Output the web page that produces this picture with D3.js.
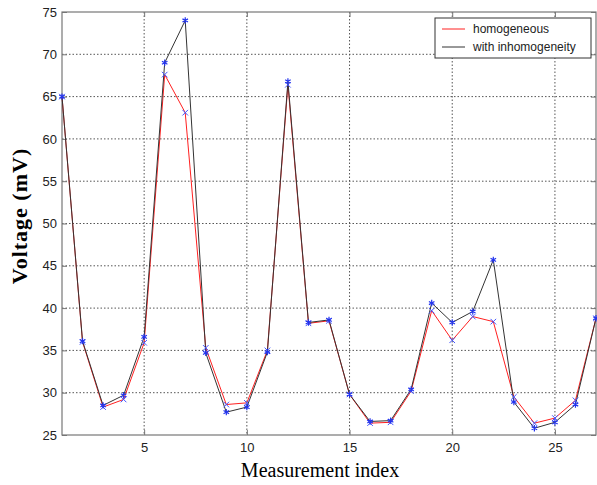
<!DOCTYPE html>
<html><head><meta charset="utf-8">
<script src="https://cdn.jsdelivr.net/npm/d3@7/dist/d3.min.js"></script>
<style>body{margin:0;background:#fff}svg{display:block}</style>
</head><body>
<svg id="c" width="597" height="485"></svg>
<script>
const index = d3.range(1, 28);
const homogeneous = [65.0, 36.0, 28.3, 29.2, 35.9, 67.6, 63.1, 35.3, 28.6, 28.8, 35.0, 66.4, 38.2, 38.5, 29.8, 26.4, 26.5, 30.2, 39.7, 36.2, 39.0, 38.4, 29.5, 26.4, 27.0, 29.1, 38.8];
const inhomogeneous = [65.0, 36.1, 28.5, 29.7, 36.6, 69.0, 74.0, 34.7, 27.7, 28.3, 34.8, 66.8, 38.3, 38.6, 29.8, 26.6, 26.7, 30.4, 40.6, 38.3, 39.6, 45.7, 28.9, 25.8, 26.5, 28.6, 38.8];
const xTicks = [5, 10, 15, 20, 25];
const yTicks = [25, 30, 35, 40, 45, 50, 55, 60, 65, 70, 75];
const seriesNames = ["homogeneous", "with inhomogeneity"];

const svg = d3.select("#c");
const L = 62, R = 596, T = 12, B = 435;
const x = d3.scaleLinear().domain([1, 27]).range([L, R]);
const y = d3.scaleLinear().domain([25, 75]).range([B, T]);

// grid
const g = svg.append("g");
g.selectAll(".gx").data(xTicks).enter().append("line")
  .attr("x1", d => x(d)).attr("x2", d => x(d)).attr("y1", T).attr("y2", B)
  .attr("stroke", "#555").attr("stroke-width", 1).attr("stroke-dasharray", "1.5,2");
g.selectAll(".gy").data(yTicks.filter(d => d > 25 && d < 75)).enter().append("line")
  .attr("x1", L).attr("x2", R).attr("y1", d => y(d)).attr("y2", d => y(d))
  .attr("stroke", "#555").attr("stroke-width", 1).attr("stroke-dasharray", "1.5,2");

// axes
const xAxis = d3.axisBottom(x).tickValues(xTicks).tickSize(-5).tickPadding(8);
const yAxis = d3.axisLeft(y).tickValues(yTicks).tickSize(-5).tickPadding(5);
const gx = svg.append("g").attr("transform", `translate(0,${B})`).call(xAxis);
const gy = svg.append("g").attr("transform", `translate(${L},0)`).call(yAxis);
[gx, gy].forEach(a => {
  a.select(".domain").remove();
  a.selectAll(".tick line").attr("stroke", "#777");
  a.selectAll("text").attr("font-family", "Liberation Sans, Arial, sans-serif").attr("font-size", 13).attr("fill", "#222");
});
// top ticks / right ticks
svg.append("g").attr("transform", `translate(0,${T})`).call(d3.axisTop(x).tickValues(xTicks).tickSize(-5).tickFormat(""))
  .call(a => { a.select(".domain").remove(); a.selectAll("line").attr("stroke", "#777"); });
svg.append("g").attr("transform", `translate(${R},0)`).call(d3.axisRight(y).tickValues(yTicks).tickSize(-5).tickFormat(""))
  .call(a => { a.select(".domain").remove(); a.selectAll("line").attr("stroke", "#777"); });

svg.append("rect").attr("x", L).attr("y", T).attr("width", R - L).attr("height", B - T)
  .attr("fill", "none").attr("stroke", "#777").attr("stroke-width", 1.2);

// lines
const line = d3.line().x((d, i) => x(index[i])).y(d => y(d));
svg.append("path").datum(homogeneous).attr("d", line).attr("fill", "none").attr("stroke", "#ff2020").attr("stroke-width", 1);
svg.append("path").datum(inhomogeneous).attr("d", line).attr("fill", "none").attr("stroke", "#333").attr("stroke-width", 1);

// markers
const sx = d3.symbol().type(d3.symbolTimes).size(22);
const sa = d3.symbol().type(d3.symbolAsterisk).size(28);
svg.append("g").selectAll("path").data(homogeneous).enter().append("path")
  .attr("d", sx).attr("transform", (d, i) => `translate(${x(index[i])},${y(d)})`)
  .attr("fill", "none").attr("stroke", "#4455ff").attr("stroke-width", 1);
svg.append("g").selectAll("path").data(inhomogeneous).enter().append("path")
  .attr("d", sa).attr("transform", (d, i) => `translate(${x(index[i])},${y(d)})`)
  .attr("fill", "none").attr("stroke", "#2233ee").attr("stroke-width", 1.2);

// legend
const lg = svg.append("g");
lg.append("rect").attr("x", 435).attr("y", 18).attr("width", 156).attr("height", 40)
  .attr("fill", "#fff").attr("stroke", "#333").attr("stroke-width", 1);
const lc = ["#ff2020", "#333"];
seriesNames.forEach((n, i) => {
  const yy = 29 + i * 18;
  lg.append("line").attr("x1", 442).attr("x2", 465).attr("y1", yy).attr("y2", yy).attr("stroke", lc[i]).attr("stroke-width", 1);
  lg.append("text").attr("x", 473).attr("y", yy + 4).text(n)
    .attr("font-family", "Liberation Sans, Arial, sans-serif").attr("font-size", 12).attr("fill", "#222");
});

// titles
svg.append("text").attr("x", 320).attr("y", 477).attr("text-anchor", "middle")
  .attr("font-family", "Liberation Serif, Times New Roman, serif").attr("font-size", 20).text("Measurement index");
svg.append("text").attr("transform", `translate(27,216) rotate(-90)`).attr("text-anchor", "middle")
  .attr("font-family", "Liberation Serif, Times New Roman, serif").attr("font-size", 22).attr("font-weight", "bold")
  .attr("letter-spacing", 1).text("Voltage (mV)");
</script>
</body></html>
